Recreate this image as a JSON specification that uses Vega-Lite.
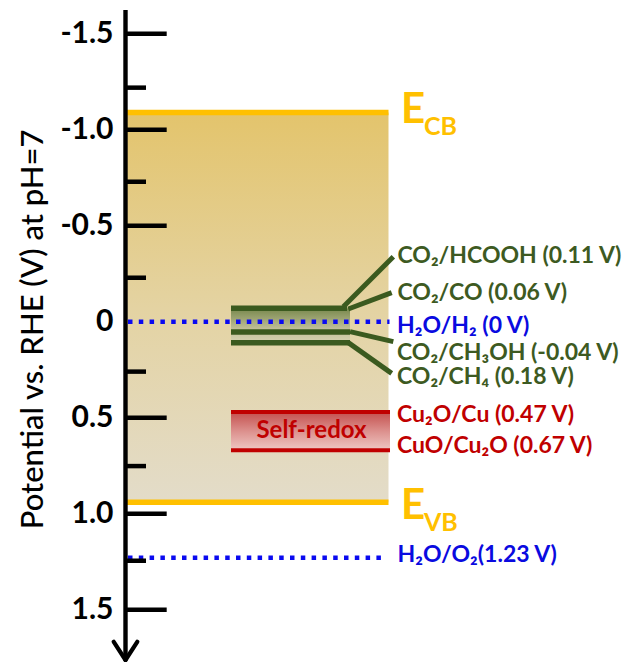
{
  "$schema": "https://vega.github.io/schema/vega-lite/v6.json",
  "width": 500,
  "height": 652.8,
  "padding": {"left": 125.5, "top": 4.9, "right": 4.5, "bottom": 4.3},
  "autosize": {"type": "none"},
  "background": "white",
  "config": {"view": {"stroke": null}, "text": {"font": "Lato"}},
  "datasets": {
    "band": [{"u": 0, "u2": 52.6, "v": -1.09, "v2": 0.94}],
    "co2Zone": [{"u": 21.1, "u2": 44.9, "v": -0.07, "v2": 0.11}],
    "cuZone": [{"u": 21.1, "u2": 52.9, "v": 0.47, "v2": 0.67}],
    "bandEdges": [
      {"name": "E_CB", "u": 0.3, "u2": 52.6, "v": -1.09},
      {"name": "E_VB", "u": 0.3, "u2": 52.6, "v": 0.94}
    ],
    "co2Levels": [
      {"u": 21.1, "u2": 44.3, "v": -0.07},
      {"u": 21.1, "u2": 44.9, "v": 0.054},
      {"u": 21.1, "u2": 44.9, "v": 0.11}
    ],
    "co2Fans": [
      {"product": "HCOOH", "u": 43.56, "v": -0.078, "u2": 53.56, "v2": -0.338},
      {"product": "CO", "u": 44.56, "v": -0.066, "u2": 53.24, "v2": -0.151},
      {"product": "CH3OH", "u": 44.9, "v": 0.052, "u2": 53.56, "v2": 0.104},
      {"product": "CH4", "u": 44.56, "v": 0.109, "u2": 53.24, "v2": 0.269}
    ],
    "cuLevels": [
      {"couple": "Cu2O/Cu", "u": 21.1, "u2": 52.9, "v": 0.47},
      {"couple": "CuO/Cu2O", "u": 21.1, "u2": 52.9, "v": 0.67}
    ],
    "waterLevels": [
      {"couple": "H2O/H2", "u": 0.5, "u2": 52.8, "v": 0},
      {"couple": "H2O/O2", "u": 0.5, "u2": 52.2, "v": 1.23}
    ],
    "spine": [{"u": 0, "v": -1.623, "v2": 1.762}],
    "arrowHead": [
      {"u": -2.35, "v": 1.667, "u2": 0, "v2": 1.762},
      {"u": 2.35, "v": 1.667, "u2": 0, "v2": 1.762}
    ],
    "ticks": [
      {"kind": "major", "u": 0, "u2": 8.24, "v": -1.5},
      {"kind": "major", "u": 0, "u2": 8.24, "v": -1.0},
      {"kind": "major", "u": 0, "u2": 8.24, "v": -0.5},
      {"kind": "major", "u": 0, "u2": 8.24, "v": 0.5},
      {"kind": "major", "u": 0, "u2": 8.24, "v": 1.0},
      {"kind": "major", "u": 0, "u2": 8.24, "v": 1.5},
      {"kind": "minor", "u": 0, "u2": 4.1, "v": -1.219},
      {"kind": "minor", "u": 0, "u2": 4.1, "v": -0.729},
      {"kind": "minor", "u": 0, "u2": 4.1, "v": -0.229},
      {"kind": "minor", "u": 0, "u2": 4.1, "v": 0.26},
      {"kind": "minor", "u": 0, "u2": 4.1, "v": 0.752},
      {"kind": "minor", "u": 0, "u2": 4.1, "v": 1.245}
    ],
    "labels": [
      {"label": "CO₂/HCOOH (0.11 V)", "group": "co2", "u": 54.4, "v": -0.304},
      {"label": "CO₂/CO (0.06 V)", "group": "co2", "u": 54.4, "v": -0.113},
      {"label": "H₂O/H₂ (0 V)", "group": "water", "u": 54.3, "v": 0.058},
      {"label": "CO₂/CH₃OH (-0.04 V)", "group": "co2", "u": 54.3, "v": 0.199},
      {"label": "CO₂/CH₄ (0.18 V)", "group": "co2", "u": 54.3, "v": 0.327},
      {"label": "Cu₂O/Cu (0.47 V)", "group": "cu", "u": 54.3, "v": 0.521},
      {"label": "CuO/Cu₂O (0.67 V)", "group": "cu", "u": 54.3, "v": 0.684},
      {"label": "H₂O/O₂(1.23 V)", "group": "water", "u": 54.4, "v": 1.252}
    ],
    "bandLabels": [
      {"band": "CB", "u": 55.1, "v": -1.034},
      {"band": "VB", "u": 55.1, "v": 1.028}
    ],
    "zoneLabels": [{"label": "Self-redox", "u": 37.2, "v": 0.57}]
  },
  "encoding": {
    "x": {"field": "u", "type": "quantitative", "scale": {"domain": [0, 100], "nice": false, "zero": false}, "axis": null},
    "y": {
      "field": "v",
      "type": "quantitative",
      "scale": {"domain": [-1.65, 1.75], "reverse": true, "nice": false, "zero": false},
      "axis": {
        "values": [-1.5, -1, -0.5, 0, 0.5, 1, 1.5],
        "labelExpr": "datum.value === 0 ? '0' : (datum.value < 0 ? '-' : '') + format(abs(datum.value), '.1f')",
        "domain": false,
        "ticks": false,
        "grid": false,
        "labelFont": "Lato",
        "labelFontWeight": "bold",
        "labelFontSize": 30,
        "labelColor": "#000000",
        "labelPadding": 12.5,
        "labelOverlap": false,
        "title": "Potential vs. RHE (V) at pH=7",
        "titleFont": "Lato",
        "titleFontSize": 31,
        "titleFontWeight": 500,
        "titleColor": "#000000",
        "titleAngle": -90,
        "titleAlign": "center",
        "titleBaseline": "alphabetic",
        "titleX": -83.5,
        "titleY": 324
      }
    }
  },
  "layer": [
    {
      "data": {"name": "band"},
      "mark": {
        "type": "rect",
        "color": {"gradient": "linear", "x1": 0, "y1": 0, "x2": 0, "y2": 1,
          "stops": [{"offset": 0, "color": "#e3c46c"}, {"offset": 0.5, "color": "#e4d3a2"}, {"offset": 1, "color": "#e3dcc9"}]}
      },
      "encoding": {"x2": {"field": "u2"}, "y2": {"field": "v2"}}
    },
    {
      "data": {"name": "co2Zone"},
      "mark": {
        "type": "rect",
        "color": {"gradient": "linear", "x1": 0, "y1": 0, "x2": 0, "y2": 1,
          "stops": [{"offset": 0, "color": "#78884c"}, {"offset": 0.6, "color": "#c0be98"}, {"offset": 1, "color": "#d6d3b2"}]}
      },
      "encoding": {"x2": {"field": "u2"}, "y2": {"field": "v2"}}
    },
    {
      "data": {"name": "cuZone"},
      "mark": {
        "type": "rect",
        "color": {"gradient": "linear", "x1": 0, "y1": 0, "x2": 0, "y2": 1,
          "stops": [{"offset": 0, "color": "#c4504e"}, {"offset": 0.5, "color": "#dc908d"}, {"offset": 1, "color": "#efc8c4"}]}
      },
      "encoding": {"x2": {"field": "u2"}, "y2": {"field": "v2"}}
    },
    {
      "data": {"name": "bandEdges"},
      "mark": {"type": "rule", "color": "#ffc000", "strokeWidth": 5.5, "strokeCap": "butt"},
      "encoding": {"x2": {"field": "u2"}}
    },
    {
      "data": {"name": "co2Levels"},
      "mark": {"type": "rule", "color": "#3b5a1f", "strokeWidth": 5.5, "strokeCap": "butt"},
      "encoding": {"x2": {"field": "u2"}}
    },
    {
      "data": {"name": "co2Fans"},
      "mark": {"type": "rule", "color": "#3b5a1f", "strokeWidth": 5, "strokeCap": "butt"},
      "encoding": {"x2": {"field": "u2"}, "y2": {"field": "v2"}}
    },
    {
      "data": {"name": "cuLevels"},
      "mark": {"type": "rule", "color": "#c00000", "strokeWidth": 4, "strokeCap": "butt"},
      "encoding": {"x2": {"field": "u2"}}
    },
    {
      "data": {"name": "waterLevels"},
      "mark": {"type": "rule", "color": "#0a0af0", "strokeWidth": 4.5, "strokeDash": [4.5, 6.3], "strokeCap": "butt"},
      "encoding": {"x2": {"field": "u2"}}
    },
    {
      "data": {"name": "ticks"},
      "mark": {"type": "rule", "color": "#000000", "strokeWidth": 4.5, "strokeCap": "butt"},
      "encoding": {"x2": {"field": "u2"}}
    },
    {
      "data": {"name": "spine"},
      "mark": {"type": "rule", "color": "#000000", "strokeWidth": 4.4, "strokeCap": "butt"},
      "encoding": {"y2": {"field": "v2"}}
    },
    {
      "data": {"name": "arrowHead"},
      "mark": {"type": "rule", "color": "#000000", "strokeWidth": 4.2, "strokeCap": "round"},
      "encoding": {"x2": {"field": "u2"}, "y2": {"field": "v2"}}
    },
    {
      "data": {"name": "labels"},
      "mark": {"type": "text", "align": "left", "baseline": "alphabetic", "fontSize": 23, "fontWeight": "bold", "font": "Lato"},
      "encoding": {
        "text": {"field": "label"},
        "color": {"field": "group", "type": "nominal", "scale": {"domain": ["co2", "water", "cu"], "range": ["#3d5a22", "#0a0ae0", "#c00000"]}, "legend": null}
      }
    },
    {
      "data": {"name": "zoneLabels"},
      "mark": {"type": "text", "align": "center", "baseline": "middle", "fontSize": 24, "fontWeight": "bold", "font": "Lato", "color": "#c00000"},
      "encoding": {"text": {"field": "label"}}
    },
    {
      "data": {"name": "bandLabels"},
      "mark": {"type": "text", "align": "left", "baseline": "alphabetic", "fontSize": 42, "fontWeight": "bold", "font": "Lato", "color": "#ffc000", "text": "E"}
    },
    {
      "data": {"name": "bandLabels"},
      "mark": {"type": "text", "align": "left", "baseline": "alphabetic", "fontSize": 25, "fontWeight": "bold", "font": "Lato", "color": "#ffc000", "dx": 23, "dy": 12},
      "encoding": {"text": {"field": "band"}}
    }
  ]
}
